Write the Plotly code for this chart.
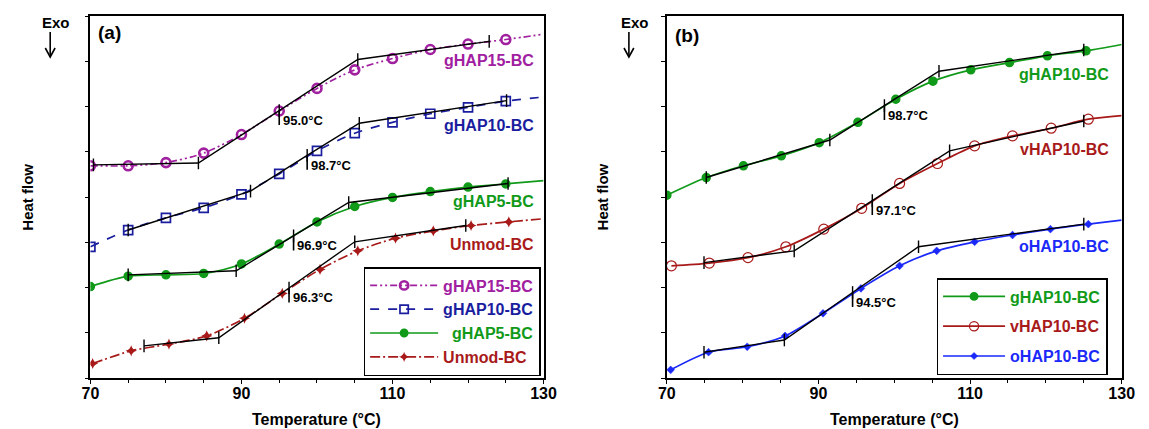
import plotly.graph_objects as go

# ---------------- DATA ----------------
# Panel (a)
a_T = [70, 75, 80, 85, 90, 95, 100, 105, 110, 115, 120, 125, 130]
a_gHAP15 = [4.69, 4.69, 4.76, 4.97, 5.38, 5.90, 6.40, 6.81, 7.06, 7.26, 7.38, 7.48, 7.60]
a_gHAP10 = [2.90, 3.27, 3.54, 3.76, 4.06, 4.51, 5.02, 5.41, 5.65, 5.84, 5.98, 6.12, 6.21]
a_gHAP5 = [2.02, 2.25, 2.28, 2.31, 2.52, 2.96, 3.45, 3.79, 3.99, 4.12, 4.22, 4.29, 4.36]
a_unmod_T = [70.3, 75.4, 80.4, 85.4, 90.4, 95.4, 100.4, 105.4, 110.4, 115.4, 120.4, 125.4, 130]
a_unmod = [0.32, 0.60, 0.75, 0.93, 1.32, 1.87, 2.40, 2.81, 3.09, 3.25, 3.37, 3.45, 3.52]

# Tangent constructions (a): [start, onset, Tg, end, final]
a_tan_gHAP15_T = [70.4, 84.3, 95.0, 105.4, 122.8]
a_tan_gHAP15_y = [4.71, 4.75, 5.91, 7.04, 7.44]
a_tan_gHAP10_T = [75.0, 91.2, 98.7, 105.6, 125.1]
a_tan_gHAP10_y = [3.27, 4.13, 4.92, 5.63, 6.13]
a_tan_gHAP5_T = [75.0, 89.3, 96.9, 104.2, 125.3]
a_tan_gHAP5_y = [2.28, 2.37, 3.14, 3.88, 4.30]
a_tan_unmod_T = [77.1, 87.0, 96.3, 105.0, 119.7]
a_tan_unmod_y = [0.71, 0.89, 1.99, 3.01, 3.37]

# Panel (b)
b_gHAP10_T = [70, 75.2, 80.1, 85.1, 90.1, 95.2, 100.2, 105.1, 110.1, 115.2, 120.2, 125.3, 130]
b_gHAP10 = [4.04, 4.43, 4.69, 4.91, 5.20, 5.65, 6.16, 6.56, 6.81, 6.97, 7.12, 7.23, 7.37]
b_vHAP10_T = [70.6, 75.6, 80.7, 85.7, 90.7, 95.7, 100.7, 105.7, 110.6, 115.6, 120.7, 125.6, 130]
b_vHAP10 = [2.48, 2.54, 2.66, 2.90, 3.29, 3.75, 4.30, 4.74, 5.13, 5.35, 5.52, 5.72, 5.80]
b_oHAP10_T = [70.5, 75.5, 80.6, 85.6, 90.6, 95.6, 100.7, 105.6, 110.6, 115.6, 120.6, 125.6, 130]
b_oHAP10 = [0.18, 0.57, 0.69, 0.93, 1.43, 1.98, 2.48, 2.81, 3.01, 3.16, 3.29, 3.40, 3.49]

b_tan_gHAP10_T = [75.2, 91.5, 98.7, 105.9, 125.0]
b_tan_gHAP10_y = [4.43, 5.26, 6.02, 6.78, 7.25]
b_tan_vHAP10_T = [74.9, 86.8, 97.1, 107.3, 125.0]
b_tan_vHAP10_y = [2.55, 2.81, 3.92, 5.02, 5.68]
b_tan_oHAP10_T = [74.9, 85.5, 94.5, 103.2, 125.0]
b_tan_oHAP10_y = [0.57, 0.84, 1.89, 2.90, 3.40]

x_ticks = [70, 90, 110, 130]

# ---------------- STYLE ----------------
FONT = "Liberation Sans, Arial, sans-serif"
MAG = "#A0209F"
NAVY = "#1A1E9E"
GREEN = "#119A19"
DRED = "#A81A1A"
BLUE = "#1A28F8"
NB = "\u00a0"

fig = go.Figure()


def curve(x, y, color, name, symbol, size, dash, xa, ya, legend, lw=1.7, mlw=1.5, pad=0, group=None):
    sizes = [size] * (len(x) - 1) + [0]
    kw = dict(legendgroup=group) if group else {}
    fig.add_trace(go.Scatter(
        x=x, y=y, mode="lines+markers",
        name=f'<span style="color:{color}">{NB * pad}{name}</span>',
        line=dict(color=color, width=lw, dash=dash, shape="spline", smoothing=0.8),
        marker=dict(symbol=symbol, size=sizes, color=color, opacity=1,
                    line=dict(color=color, width=mlw)),
        xaxis=xa, yaxis=ya, legend=legend, showlegend=True, **kw))


def tangent(T, y, xa, ya):
    fig.add_trace(go.Scatter(
        x=T, y=y, mode="lines+markers", line=dict(color="black", width=1.4),
        marker=dict(symbol="line-ns", size=9, line=dict(color="black", width=1.4)),
        xaxis=xa, yaxis=ya, showlegend=False, hoverinfo="skip"))
    # drop line at Tg
    fig.add_trace(go.Scatter(
        x=[T[2], T[2]], y=[y[2], y[2] - 0.32], mode="lines",
        line=dict(color="black", width=1.6), xaxis=xa, yaxis=ya,
        showlegend=False, hoverinfo="skip"))
    fig.add_annotation(x=T[2] + 0.25, y=y[2] - 0.22, xref=xa, yref=ya,
                       text=f"<b>{T[2]:.1f}°C</b>", showarrow=False, xanchor="left",
                       yanchor="middle", font=dict(family=FONT, size=13, color="black"))


# Panel (a)
curve(a_T, a_gHAP15, MAG, "gHAP15-BC", "circle-open", 9, "7px,3px,2px,3px,2px,3px", "x", "y", "legend", mlw=2.6)
curve(a_T, a_gHAP10, NAVY, "gHAP10-BC", "square-open", 9, "dash", "x", "y", "legend", mlw=1.7)
curve(a_T, a_gHAP5, GREEN, "gHAP5-BC", "circle", 8, "solid", "x", "y", "legend", pad=2)
curve(a_unmod_T, a_unmod, DRED, "Unmod-BC", "star-diamond", 8, "10px,3px,2px,3px", "x", "y", "legend", mlw=0)
for T, y in [(a_tan_gHAP15_T, a_tan_gHAP15_y), (a_tan_gHAP10_T, a_tan_gHAP10_y),
             (a_tan_gHAP5_T, a_tan_gHAP5_y), (a_tan_unmod_T, a_tan_unmod_y)]:
    tangent(T, y, "x", "y")

# Panel (b)
curve(b_gHAP10_T, b_gHAP10, GREEN, "gHAP10-BC", "circle", 8, "solid", "x2", "y2", "legend2", group="b1")
curve(b_vHAP10_T, b_vHAP10, DRED, "vHAP10-BC", "circle-open", 10, "solid", "x2", "y2", "legend2", mlw=1.2, group="b2")
curve(b_oHAP10_T, b_oHAP10, BLUE, "oHAP10-BC", "diamond", 6, "solid", "x2", "y2", "legend2", mlw=0.5, group="b3")
for T, y in [(b_tan_gHAP10_T, b_tan_gHAP10_y), (b_tan_vHAP10_T, b_tan_vHAP10_y),
             (b_tan_oHAP10_T, b_tan_oHAP10_y)]:
    tangent(T, y, "x2", "y2")

# Series labels
labels = [("x", "y", 129.0, 7.01, "gHAP15-BC", MAG), ("x", "y", 129.0, 5.57, "gHAP10-BC", NAVY),
          ("x", "y", 129.0, 3.90, "gHAP5-BC", GREEN), ("x", "y", 129.0, 2.94, "Unmod-BC", DRED),
          ("x2", "y2", 128.6, 6.70, "gHAP10-BC", GREEN), ("x2", "y2", 128.6, 5.04, "vHAP10-BC", DRED),
          ("x2", "y2", 128.6, 2.90, "oHAP10-BC", BLUE)]
for xa, ya, x, y, t, c in labels:
    fig.add_annotation(x=x, y=y, xref=xa, yref=ya, text=f"<b>{t}</b>", showarrow=False,
                       xanchor="right", yanchor="middle", font=dict(family=FONT, size=16, color=c))

W, H = 1149, 429
def px(xp):
    return xp / W
def py(yp):
    return 1 - yp / H

paper_text = [
    (102, 33, "<b>(a)</b>", 19, 0), (691, 35, "<b>(b)</b>", 19, 0),
    (48, 22, "<b>Exo</b>", 15, 0), (638, 22, "<b>Exo</b>", 15, 0),
    (18, 197, "<b>Heat flow</b>", 15, -90), (605, 197, "<b>Heat flow</b>", 15, -90),
    (314, 419, "<b>Temperature (°C)</b>", 16, 0), (903, 419, "<b>Temperature (°C)</b>", 16, 0),
]
for x, y, t, s, ang in paper_text:
    fig.add_annotation(x=px(x), y=py(y), xref="paper", yref="paper", text=t, showarrow=False,
                       xanchor="center", yanchor="middle", textangle=ang,
                       font=dict(family=FONT, size=s, color="black"))

# "Exo" down arrows (decorations)
shapes = []
for ax in (42, 632):
    shapes.append(dict(type="line", xref="paper", yref="paper", x0=px(ax), x1=px(ax),
                       y0=py(32), y1=py(57), line=dict(color="black", width=1.6)))
    shapes.append(dict(type="path", xref="paper", yref="paper",
                       path=f"M {px(ax - 5)} {py(48)} L {px(ax)} {py(57)} L {px(ax + 5)} {py(48)}",
                       line=dict(color="black", width=1.6)))

xaxis_common = dict(range=[70, 130], tickvals=x_ticks, ticktext=[str(v) for v in x_ticks],
                    ticks="outside", ticklen=4, tickwidth=1.3, tickcolor="black",
                    minor=dict(dtick=5, ticks="outside", ticklen=3, tickcolor="black", tickwidth=1),
                    showline=True, linecolor="black", linewidth=1.6, mirror=True,
                    showgrid=False, zeroline=False, ticklabelstandoff=-4,
                    tickfont=dict(family=FONT, size=16, color="black", weight="bold"))
yaxis_common = dict(range=[0, 8], dtick=1, showticklabels=False, ticks="outside", ticklen=4,
                    tickcolor="black", tickwidth=1.3, showline=True, linecolor="black",
                    linewidth=1.6, mirror=True, showgrid=False, zeroline=False)

legend_common = dict(bgcolor="white", bordercolor="black", borderwidth=1.5,
                     font=dict(family=FONT, size=16, weight="bold"), yanchor="top",
                     xanchor="right")

fig.update_layout(
    width=W, height=H, margin=dict(l=0, r=0, t=0, b=0),
    paper_bgcolor="white", plot_bgcolor="white", shapes=shapes,
    xaxis=dict(domain=[px(83), px(545)], anchor="y", **xaxis_common),
    yaxis=dict(domain=[py(378), py(16)], anchor="x", **yaxis_common),
    xaxis2=dict(domain=[px(670.7), px(1134.4)], anchor="y2", **xaxis_common),
    yaxis2=dict(domain=[py(378), py(16)], anchor="x2", **yaxis_common),
    legend=dict(x=px(542), y=py(267), itemwidth=68, traceorder="normal", **legend_common),
    legend2=dict(x=px(1120), y=py(278), itemwidth=62, tracegroupgap=6, traceorder="grouped", **legend_common),
)

fig.write_html("out.html")
